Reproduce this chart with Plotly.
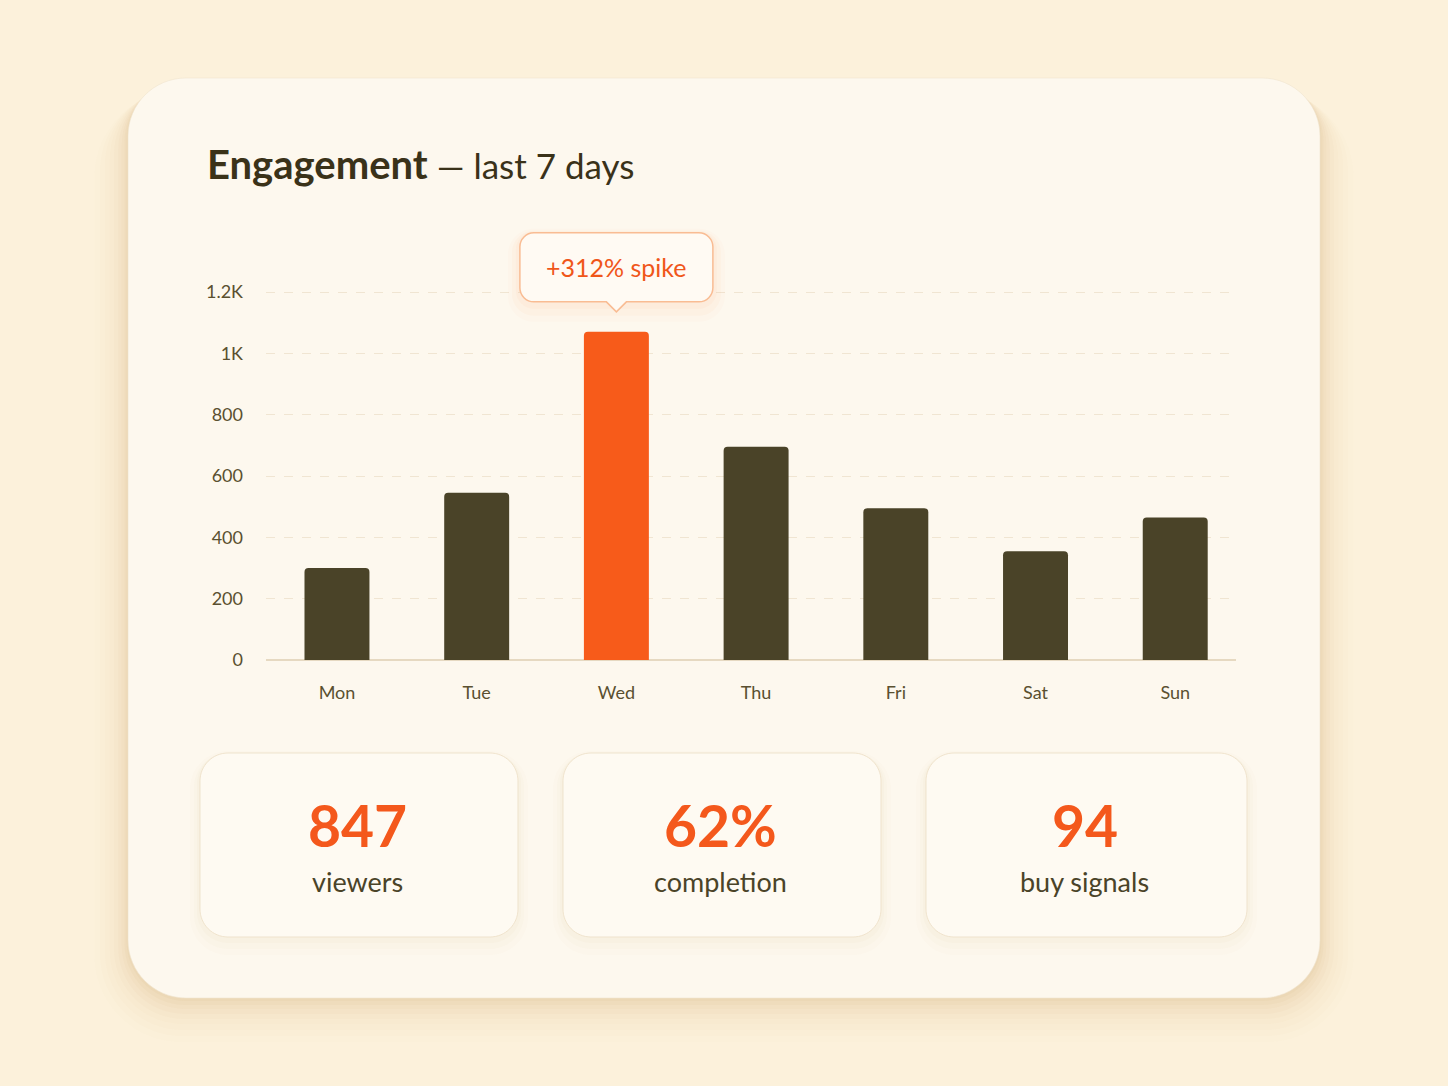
import plotly.graph_objects as go

# ---------------- data ----------------
days = ["Mon", "Tue", "Wed", "Thu", "Fri", "Sat", "Sun"]
engagement = [300, 545, 1070, 695, 495, 355, 465]
highlight_day = "Wed"
ytick_vals = [0, 200, 400, 600, 800, 1000, 1200]
ytick_text = ["0", "200", "400", "600", "800", "1K", "1.2K"]
callout_text = "+312% spike"
stat_values = ["847", "62%", "94"]
stat_labels = ["viewers", "completion", "buy signals"]

# ---------------- styling ----------------
W, H = 1448, 1086
FONT = "Lato"
PAGE_BG = "#FCF1DB"
CARD_BG = "#FDF8EE"
DARK = "#4A4328"
TEXT_DARK = "#3A3219"
ORANGE = "#F75B1A"
LABEL = "#5A5030"


def px(x):
    return x / W


def py(y):
    return 1 - y / H


K = 0.5523


def _path(pts):
    s = ""
    for cmd, ps in pts:
        s += cmd + " " + " ".join(f"{px(a):.5f},{py(b):.5f}" for a, b in ps) + " "
    return s + "Z"


def rrect_path(x0, y0, x1, y1, r):
    k = K * r
    return _path([
        ("M", [(x0 + r, y0)]),
        ("L", [(x1 - r, y0)]),
        ("C", [(x1 - r + k, y0), (x1, y0 + r - k), (x1, y0 + r)]),
        ("L", [(x1, y1 - r)]),
        ("C", [(x1, y1 - r + k), (x1 - r + k, y1), (x1 - r, y1)]),
        ("L", [(x0 + r, y1)]),
        ("C", [(x0 + r - k, y1), (x0, y1 - r + k), (x0, y1 - r)]),
        ("L", [(x0, y0 + r)]),
        ("C", [(x0, y0 + r - k), (x0 + r - k, y0), (x0 + r, y0)]),
    ])


def callout_path(x0, y0, x1, y1, r, cx, pw, ph):
    k = K * r
    return _path([
        ("M", [(x0 + r, y0)]),
        ("L", [(x1 - r, y0)]),
        ("C", [(x1 - r + k, y0), (x1, y0 + r - k), (x1, y0 + r)]),
        ("L", [(x1, y1 - r)]),
        ("C", [(x1, y1 - r + k), (x1 - r + k, y1), (x1 - r, y1)]),
        ("L", [(cx + pw, y1)]),
        ("L", [(cx, y1 + ph)]),
        ("L", [(cx - pw, y1)]),
        ("L", [(x0 + r, y1)]),
        ("C", [(x0 + r - k, y1), (x0, y1 - r + k), (x0, y1 - r)]),
        ("L", [(x0, y0 + r)]),
        ("C", [(x0, y0 + r - k), (x0 + r - k, y0), (x0 + r, y0)]),
    ])


# plot geometry (pixels)
PL, PR = 266, 1236
XR = [-0.508, 6.435]
Y0PX = 660
PX_PER_UNIT = 368 / 1200
YMAX = 1212
YTOPPX = Y0PX - YMAX * PX_PER_UNIT


def xdata_to_px(i):
    return PL + (i - XR[0]) * (PR - PL) / (XR[1] - XR[0])


def ydata_to_px(v):
    return Y0PX - v * PX_PER_UNIT


colors = [ORANGE if d == highlight_day else DARK for d in days]

fig = go.Figure()
fig.add_trace(go.Bar(
    x=days, y=engagement,
    marker=dict(color=colors, cornerradius=4, line=dict(width=0)),
    width=0.465,
    hoverinfo="skip",
))

shapes = []

# main card soft shadow (mostly below, some at the sides)
shadow_layers = [(48, 44, 0.012), (40, 38, 0.016), (33, 32, 0.02), (26, 26, 0.025),
                 (20, 21, 0.03), (14, 16, 0.035), (9, 11, 0.04), (5, 7, 0.045), (2, 3, 0.05)]
for grow, dy, op in shadow_layers:
    shapes.append(dict(type="path", xref="paper", yref="paper", layer="below",
                       path=rrect_path(128 - grow * 0.7, 78 - grow * 0.2 + dy * 0.5,
                                       1320 + grow * 0.7, 998 + dy, 58 + grow * 0.6),
                       fillcolor=f"rgba(195,150,80,{op})", line=dict(width=0)))
# main card
shapes.append(dict(type="path", xref="paper", yref="paper", layer="below",
                   path=rrect_path(128, 78, 1320, 998, 58),
                   fillcolor=CARD_BG, line=dict(color="rgba(240,228,206,0.6)", width=1)))

# stat cards
stat_boxes = [(200, 518), (563, 881), (926, 1247)]
SY0, SY1 = 753, 937
for (x0, x1) in stat_boxes:
    for grow, dy, op in [(10, 8, 0.015), (6, 6, 0.022), (3, 3, 0.03)]:
        shapes.append(dict(type="path", xref="paper", yref="paper", layer="below",
                           path=rrect_path(x0 - grow, SY0 - grow + dy, x1 + grow, SY1 + grow + dy, 28 + grow),
                           fillcolor=f"rgba(190,150,90,{op})", line=dict(width=0)))
    shapes.append(dict(type="path", xref="paper", yref="paper", layer="below",
                       path=rrect_path(x0, SY0, x1, SY1, 28),
                       fillcolor="#FEFAF2", line=dict(color="rgba(238,225,202,0.9)", width=1)))

# callout (anchored above the highlighted bar)
hi = days.index(highlight_day)
cx = xdata_to_px(hi)
bar_top = ydata_to_px(engagement[hi])
tip_y = bar_top - 20
box_y1 = tip_y - 10
box_y0 = box_y1 - 69
box_w = 193
for grow, dy, op in [(12, 8, 0.025), (8, 6, 0.035), (4, 3, 0.045)]:
    shapes.append(dict(type="path", xref="paper", yref="paper", layer="above",
                       path=rrect_path(cx - box_w / 2 - grow, box_y0 - grow + dy, cx + box_w / 2 + grow, box_y1 + grow + dy, 14 + grow),
                       fillcolor=f"rgba(245,140,70,{op})", line=dict(width=0)))
shapes.append(dict(type="path", xref="paper", yref="paper", layer="above",
                   path=callout_path(cx - box_w / 2, box_y0, cx + box_w / 2, box_y1, 14, cx, 10, 10),
                   fillcolor="#FFFAF3", line=dict(color="#F9BC93", width=1.5)))

annotations = []
# title
annotations.append(dict(
    xref="paper", yref="paper", x=px(205), y=py(164), xanchor="left", yanchor="middle",
    text="<b>Engagement</b><span style='font-size:35px'> — last 7 days</span>",
    showarrow=False, font=dict(family=FONT, size=40, color=TEXT_DARK)))
# callout text
annotations.append(dict(
    xref="paper", yref="paper", x=px(cx), y=py((box_y0 + box_y1) / 2), xanchor="center", yanchor="middle",
    text=callout_text, showarrow=False, font=dict(family=FONT, size=25, color="#F0561A")))
# stats
for (x0, x1), v, lab in zip(stat_boxes, stat_values, stat_labels):
    cxs = (x0 + x1) / 2 - 2
    annotations.append(dict(
        xref="paper", yref="paper", x=px(cxs), y=py(825), xanchor="center", yanchor="middle",
        text=f"<b>{v}</b>", showarrow=False, font=dict(family=FONT, size=57, color="#F4581C")))
    annotations.append(dict(
        xref="paper", yref="paper", x=px(cxs), y=py(881), xanchor="center", yanchor="middle",
        text=lab, showarrow=False, font=dict(family=FONT, size=27, color=DARK)))

fig.update_layout(
    width=W, height=H, autosize=False,
    margin=dict(l=0, r=0, t=0, b=0, pad=0, autoexpand=False),
    paper_bgcolor=PAGE_BG,
    plot_bgcolor="rgba(0,0,0,0)",
    showlegend=False,
    bargap=0.5,
    shapes=shapes,
    annotations=annotations,
    xaxis=dict(
        domain=[px(PL), px(PR)], range=XR, type="category",
        showgrid=False, zeroline=False, showline=False, ticks="",
        ticklabelstandoff=20, automargin=False,
        tickfont=dict(family=FONT, size=18, color=LABEL),
        fixedrange=True,
    ),
    yaxis=dict(
        domain=[py(Y0PX), py(YTOPPX)], range=[0, YMAX],
        tickvals=ytick_vals, ticktext=ytick_text,
        showgrid=True, gridcolor="#F0E5D2", griddash="dash", gridwidth=1,
        zeroline=True, zerolinecolor="#E6D9C1", zerolinewidth=2,
        showline=False, ticks="",
        ticklabelstandoff=22, automargin=False,
        tickfont=dict(family=FONT, size=18, color=LABEL),
        fixedrange=True,
    ),
)

fig.write_html("out.html", config={"displayModeBar": False})
